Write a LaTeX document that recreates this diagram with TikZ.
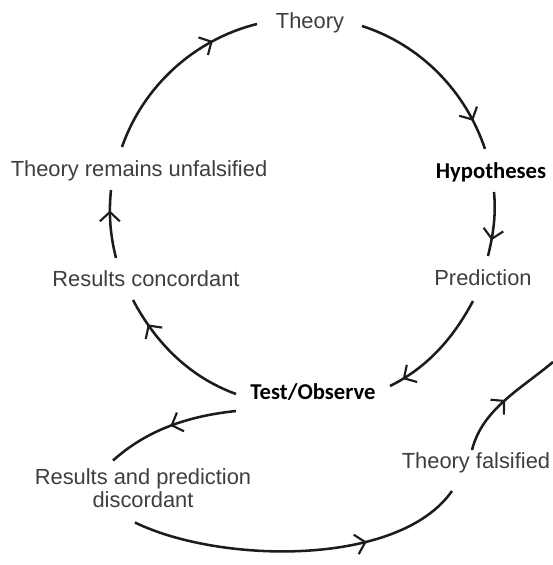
\documentclass[tikz,border=0pt]{standalone}
\usepackage{fontspec}
\setmainfont{Liberation Sans}
\newfontfamily\labelbold{Carlito}[BoldFont=* Bold]
\usetikzlibrary{arrows.meta,decorations.markings}

\definecolor{labelgray}{HTML}{3E3E3E}
\definecolor{inkline}{HTML}{1C1C1C}

\tikzset{
  plainlabel/.style={anchor=base, text=labelgray, inner sep=0pt,
    font=\fontsize{16.4}{17}\selectfont},
  boldlabel/.style={anchor=base, text=black, inner sep=0pt,
    font=\labelbold\bfseries\fontsize{17}{18}\selectfont},
  flow/.style={draw=inkline, line width=1.9pt, looseness=0.9,
    postaction={decorate},
    decoration={markings, mark=at position #1 with
      {\arrow{Straight Barb[length=7pt, width=15pt, line width=1.6pt]}}}},
  flow/.default=0.5
}

\begin{document}
\begin{tikzpicture}[x=0.75pt, y=-0.75pt]
  \useasboundingbox (0,0) rectangle (553,565);
  \fill[white] (0,0) rectangle (553,565);

  % stages of the cycle
  \node[plainlabel] (theory) at (310,28)  {Theory};
  \node[boldlabel]  (hyp)    at (491,178) {Hypotheses};
  \node[plainlabel] (pred)   at (483,285) {Prediction};
  \node[boldlabel]  (test)   at (313,399) {Test/Observe};
  \node[plainlabel] (rconc)  at (146,286) {Results concordant};
  \node[plainlabel] (trem)   at (139,176) {Theory remains unfalsified};
  \node[plainlabel, anchor=center, align=center] (rdisc) at (143,488.5)
    {Results and prediction\\discordant};
  \node[plainlabel] (tfals)  at (476,468) {Theory falsified};
  \coordinate (exit) at (553,362);

  % main cycle
  \draw[flow=0.83] ([shift={(52,-2)}]theory.base)
    to[out=-17.8, in=108.5] ([shift={(-6,-29)}]hyp.base);
  \draw[flow=0.75] ([shift={(3,14)}]hyp.base)
    to[out=-84.6, in=76.2] ([shift={(5,-29)}]pred.base);
  \draw[flow=0.88] ([shift={(-10,16)}]pred.base)
    to[out=-118, in=26.3] ([shift={(77,-13)}]test.base);
  \draw[flow=0.8] ([shift={(-77,-5)}]test.base)
    to[out=160, in=-62.1] ([shift={(-13,14)}]rconc.base);
  \draw[flow=0.7] ([shift={(-30,-28)}]rconc.base)
    to[out=104.1, in=264.1] ([shift={(-28,14)}]trem.base);
  \draw[flow=0.75] ([shift={(-17,-29)}]trem.base)
    to[out=70.8, in=193.9] ([shift={(-53,-4)}]theory.base);

  % falsification branch
  \draw[flow=0.5] ([shift={(-77,12)}]test.base)
    to[out=186, in=42] ([shift={(-30,-28)}]rdisc.center);
  \draw[flow=0.7, looseness=0.75] ([shift={(-8,34)}]rdisc.center)
    to[out=-26, in=-125] ([shift={(-24,23)}]tfals.base);
  \draw[flow=0.5] ([shift={(-4,-18)}]tfals.base)
    to[out=76, in=220] (exit);
\end{tikzpicture}
\end{document}
